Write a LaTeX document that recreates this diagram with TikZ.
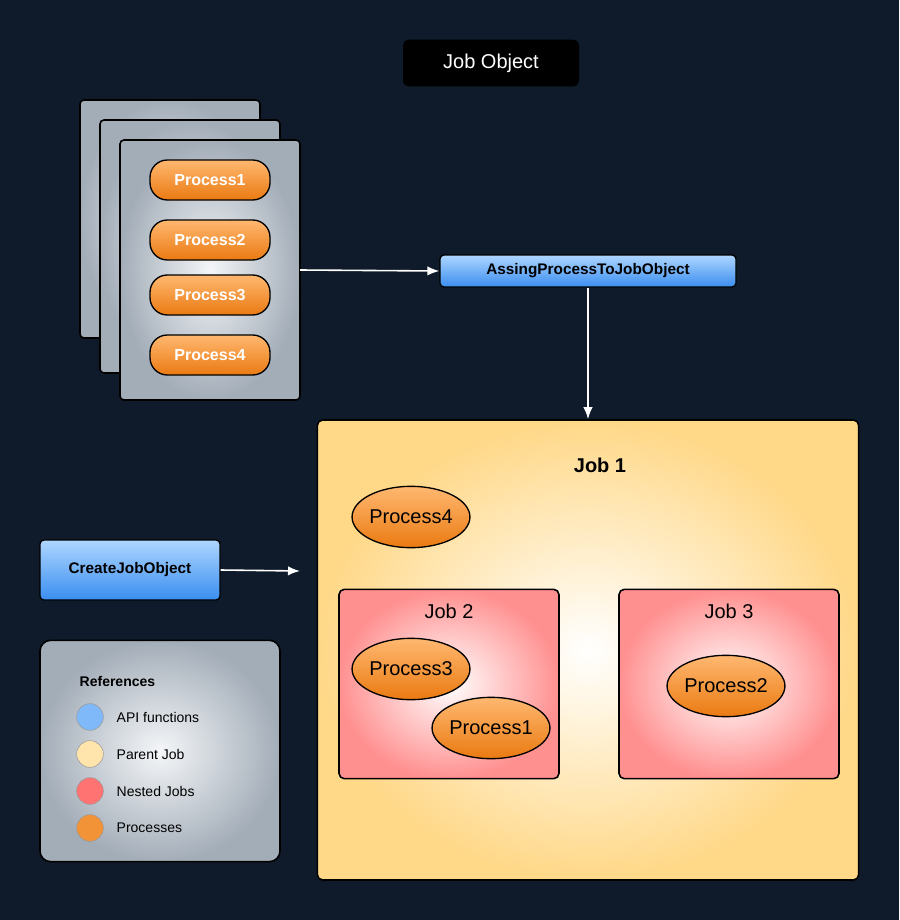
\documentclass[tikz,border=0pt]{standalone}
\usepackage{fontspec}
\setmainfont{Liberation Sans}
\usetikzlibrary{arrows.meta,shapes.geometric}
\definecolor{bgnavy}{HTML}{0F1B2A}
\definecolor{cardout}{HTML}{A3ADB8}
\definecolor{cardin}{HTML}{F4F6F8}
\definecolor{orgtop}{HTML}{FFB870}
\definecolor{orgbot}{HTML}{EA7A12}
\definecolor{bluetop}{HTML}{AED6FF}
\definecolor{bluebot}{HTML}{3A8EF0}
\definecolor{jobout}{HTML}{FFD888}
\definecolor{nestout}{HTML}{FF9090}
\tikzset{
  card/.style={draw=black,line width=1.2pt,rounded corners=3pt,inner color=cardin,outer color=cardout},
  pill/.style={draw=black,line width=1pt,rounded corners=13pt,minimum width=90pt,minimum height=30pt,
    top color=orgtop,bottom color=orgbot,text=white,font=\bfseries\fontsize{12}{14}\selectfont},
  proc/.style={ellipse,draw=black,line width=1pt,minimum width=79pt,minimum height=46pt,inner sep=0pt,
    top color=orgtop,bottom color=orgbot,font=\fontsize{15}{17}\selectfont},
  api/.style={draw=black,line width=1pt,rounded corners=3pt,top color=bluetop,bottom color=bluebot,
    font=\bfseries\fontsize{11.5}{13}\selectfont},
  box/.style={draw=black,line width=1.2pt,rounded corners=4pt},
  dot/.style={circle,draw=black!40,minimum size=20pt,inner sep=0pt},
  legtxt/.style={anchor=west,font=\fontsize{10.5}{12}\selectfont},
  arr/.style={white,line width=1.2pt,-{Latex[length=9pt,width=7pt]}}
}
\begin{document}
\begin{tikzpicture}[x=0.75pt,y=-0.75pt]
\fill[bgnavy] (0,0) rectangle (899,920);
\useasboundingbox (0,0) rectangle (899,920);

% title
\node[fill=black,rounded corners=4pt,minimum width=132pt,minimum height=35pt,text=white,
  font=\fontsize{15}{17}\selectfont] (title) at (491,63) {Job Object};

% stacked process cards
\draw[card] (80,100) rectangle (260,338);
\draw[card] (100,120) rectangle (280,373);
\node[card,minimum width=135pt,minimum height=195pt] (stack) at (210,270) {};
\node[pill] (p1) at (210,180) {Process1};
\node[pill] (p2) at (210,240) {Process2};
\node[pill] (p3) at (210,295) {Process3};
\node[pill] (p4) at (210,355) {Process4};

% api functions
\node[api,minimum width=222pt,minimum height=24pt] (assign) at (588,271) {AssingProcessToJobObject};
\node[api,minimum width=135pt,minimum height=45pt] (create) at (130,570) {CreateJobObject};

% parent job
\node[box,inner color=white,outer color=jobout,minimum width=406pt,minimum height=345pt] (job1) at (588,650) {};
\node[font=\bfseries\fontsize{15}{17}\selectfont] (job1lbl) at (600,465) {Job 1};
\node[proc] (q4) at (411,517) {Process4};

% nested jobs
\node[box,inner color=white,outer color=nestout,minimum width=165pt,minimum height=142pt] (job2) at (449,684) {};
\node[font=\fontsize{15}{17}\selectfont] (job2lbl) at (449,611) {Job 2};
\node[proc] (q3) at (411,669) {Process3};
\node[proc] (q1) at (491,728) {Process1};
\node[box,inner color=white,outer color=nestout,minimum width=165pt,minimum height=142pt] (job3) at (729,684) {};
\node[font=\fontsize{15}{17}\selectfont] (job3lbl) at (729,611) {Job 3};
\node[proc] (q2) at (726,686) {Process2};

% arrows
\coordinate (stackR) at (300,270);
\coordinate (job1L) at (300,571);
\draw[arr] (stackR) -- (assign.west);
\draw[arr] (assign.south) -- (job1.north);
\draw[arr] (create.east) -- (job1L);

% legend
\node[card,rounded corners=8pt,minimum width=180pt,minimum height=166pt] (legend) at (160,751) {};
\node[anchor=west,font=\bfseries\fontsize{10.5}{12}\selectfont] (reflbl) at (75,681) {References};
\node[dot,fill=bluetop!60!bluebot] (d1) at (90,717) {};
\node[legtxt] (t1) at (112,717) {API functions};
\node[dot,fill=jobout!70!white] (d2) at (90,754) {};
\node[legtxt] (t2) at (112,754) {Parent Job};
\node[dot,fill=nestout!80!red] (d3) at (90,791) {};
\node[legtxt] (t3) at (112,791) {Nested Jobs};
\node[dot,fill=orgtop!40!orgbot] (d4) at (90,828) {};
\node[legtxt] (t4) at (112,828) {Processes};
\end{tikzpicture}
\end{document}
